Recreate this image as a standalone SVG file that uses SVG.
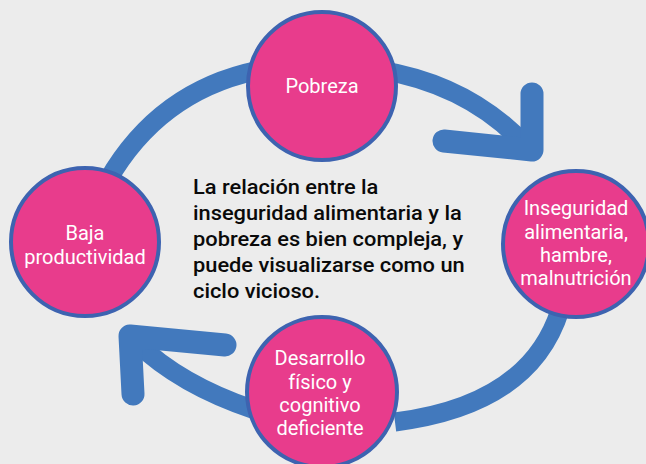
<svg xmlns="http://www.w3.org/2000/svg" width="646" height="464" viewBox="0 0 646 464">
<style>
.band{fill:none;stroke:#4279bd;stroke-width:19;stroke-linecap:butt}
.arm{fill:none;stroke:#4279bd;stroke-width:23;stroke-linecap:round;stroke-linejoin:round}
.node circle{fill:#e83c8c;stroke:#3d63b0;stroke-width:4}
.node text{fill:#ffffff;font-family:Roboto,"Liberation Sans",sans-serif;font-size:20px;text-anchor:middle}
.para{fill:#0a0a0a;font-family:Roboto,"Liberation Sans",sans-serif;font-size:20.5px;font-weight:500}
</style>
<rect width="646" height="464" fill="#ececec"/>
<g id="connectors">
<path class="band" d="M 380 70 Q 470 85 526 146"/>
<path class="arm" d="M 532 94 L 532 150 L 444 141"/>
<path class="band" d="M 560 310 Q 530 405 395 422"/>
<path class="band" d="M 255 410 Q 180 385 136 342"/>
<path class="arm" d="M 133 394 L 130 336 L 225 345"/>
<path class="band" d="M 108 180 Q 160 90 260 70"/>
</g>
<g id="pobreza" class="node">
<circle cx="322" cy="86" r="74"/>
<text x="322" y="93">Pobreza</text>
</g>
<g id="inseguridad" class="node">
<circle cx="576" cy="244" r="73"/>
<text x="576" y="215">Inseguridad</text>
<text x="576" y="239">alimentaria,</text>
<text x="576" y="262">hambre,</text>
<text x="576" y="285">malnutrición</text>
</g>
<g id="desarrollo" class="node">
<circle cx="322" cy="392" r="75"/>
<text x="320" y="365">Desarrollo</text>
<text x="320" y="389">físico y</text>
<text x="320" y="412">cognitivo</text>
<text x="320" y="435">deficiente</text>
</g>
<g id="baja" class="node">
<circle cx="85" cy="242" r="74"/>
<text x="85" y="240">Baja</text>
<text x="85" y="264">productividad</text>
</g>
<g id="texto" transform="translate(193,0) scale(1.065,1)">
<text class="para" x="0" y="194">La relación entre la</text>
<text class="para" x="0" y="220">inseguridad alimentaria y la</text>
<text class="para" x="0" y="246">pobreza es bien compleja, y</text>
<text class="para" x="0" y="272">puede visualizarse como un</text>
<text class="para" x="0" y="298">ciclo vicioso.</text>
</g>
</svg>
